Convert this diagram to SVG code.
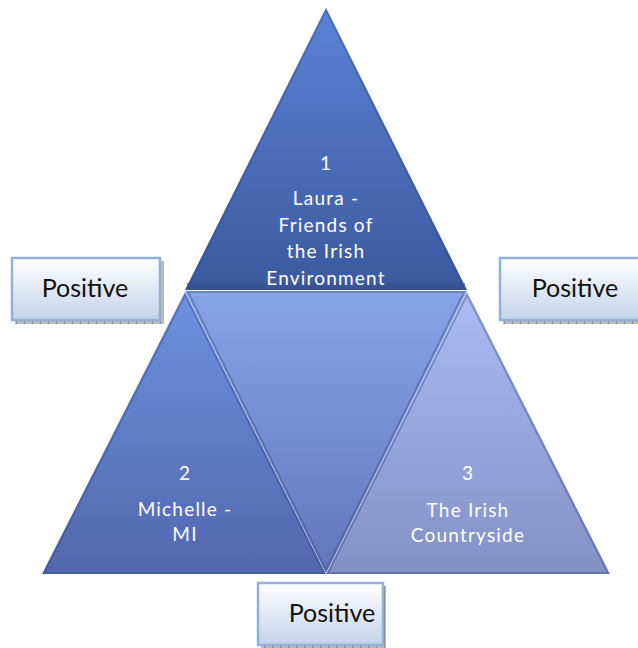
<svg xmlns="http://www.w3.org/2000/svg" width="638" height="648" viewBox="0 0 638 648">
  <defs>
    <linearGradient id="gTop" x1="0" y1="0" x2="0" y2="1">
      <stop offset="0" stop-color="#5b82d6"/>
      <stop offset="1" stop-color="#3c599e"/>
    </linearGradient>
    <linearGradient id="gLeft" x1="0" y1="0" x2="0" y2="1">
      <stop offset="0" stop-color="#6c92e0"/>
      <stop offset="1" stop-color="#5267ad"/>
    </linearGradient>
    <linearGradient id="gMid" x1="0" y1="0" x2="0" y2="1">
      <stop offset="0" stop-color="#88a4e8"/>
      <stop offset="1" stop-color="#6276ba"/>
    </linearGradient>
    <linearGradient id="gRight" x1="0" y1="0" x2="0" y2="1">
      <stop offset="0" stop-color="#aabcf2"/>
      <stop offset="1" stop-color="#8390c6"/>
    </linearGradient>
    <linearGradient id="gBox" x1="0" y1="0" x2="0" y2="1">
      <stop offset="0" stop-color="#ffffff"/>
      <stop offset="1" stop-color="#c3d2ea"/>
    </linearGradient>
    <pattern id="shadowTicks" width="8" height="4" patternUnits="userSpaceOnUse">
      <rect width="8" height="4" fill="#b8b8b8"/>
      <rect width="1" height="4" fill="#8a8a8a"/>
    </pattern>
  </defs>
  <style>
    .tri { stroke-linejoin: miter; }
    .bevel { fill: none; stroke: #2e4580; stroke-opacity: 0.35; stroke-width: 2; }
    .label { font-family: Lato, "Open Sans", "Liberation Sans", sans-serif; font-size: 19px; letter-spacing: 1.2px; fill: #ffffff; text-anchor: middle; }
    .box { fill: url(#gBox); stroke: #93b0d8; stroke-width: 2.5; }
    .shadow { fill: url(#shadowTicks); }
    .boxText { font-family: Lato, "Open Sans", "Liberation Sans", sans-serif; font-size: 25px; fill: #111111; text-anchor: middle; }
  </style>

  <!-- pyramid of four triangles -->
  <g id="tri-top">
    <polygon class="tri" points="326,8 467,290 185,290" fill="url(#gTop)"/>
    <polygon class="bevel" points="326,10 465,289 187,289"/>
    <rect x="187" y="283" width="278" height="7" fill="#34508f" opacity="0.6"/>
    <text class="label" x="326" y="170">1</text>
    <text class="label" x="326" y="205">Laura -</text>
    <text class="label" x="326" y="232">Friends of</text>
    <text class="label" x="326" y="258">the Irish</text>
    <text class="label" x="326" y="285">Environment</text>
  </g>
  <g id="tri-middle">
    <polygon class="tri" points="185,291 467,291 326,573" fill="url(#gMid)"/>
    <polygon class="bevel" points="188,292 464,292 326,570"/>
  </g>
  <g id="tri-left">
    <polygon class="tri" points="185,292 326,574 42,574" fill="url(#gLeft)"/>
    <polygon class="bevel" points="185,295 324,573 44,573"/>
    <text class="label" x="185" y="480">2</text>
    <text class="label" x="185" y="516">Michelle -</text>
    <text class="label" x="185" y="541">MI</text>
  </g>
  <g id="tri-right">
    <polygon class="tri" points="467,292 610,574 326,574" fill="url(#gRight)"/>
    <polygon class="bevel" points="467,295 608,573 328,573"/>
    <text class="label" x="468" y="480">3</text>
    <text class="label" x="468" y="517">The Irish</text>
    <text class="label" x="468" y="542">Countryside</text>
  </g>

  <!-- labels beside the pyramid -->
  <g id="box-left">
    <rect class="shadow" x="15" y="261" width="149" height="63"/>
    <rect class="box" x="12" y="258" width="148" height="62"/>
    <text class="boxText" x="85" y="297">Positive</text>
  </g>
  <g id="box-right">
    <rect class="shadow" x="503" y="261" width="149" height="63"/>
    <rect class="box" x="500" y="258" width="148" height="62"/>
    <text class="boxText" x="575" y="297">Positive</text>
  </g>
  <g id="box-bottom">
    <rect class="shadow" x="261" y="586" width="125" height="62"/>
    <rect class="box" x="258" y="583" width="125" height="62"/>
    <text class="boxText" x="332" y="622">Positive</text>
  </g>

  <g id="connectors"></g>
</svg>
